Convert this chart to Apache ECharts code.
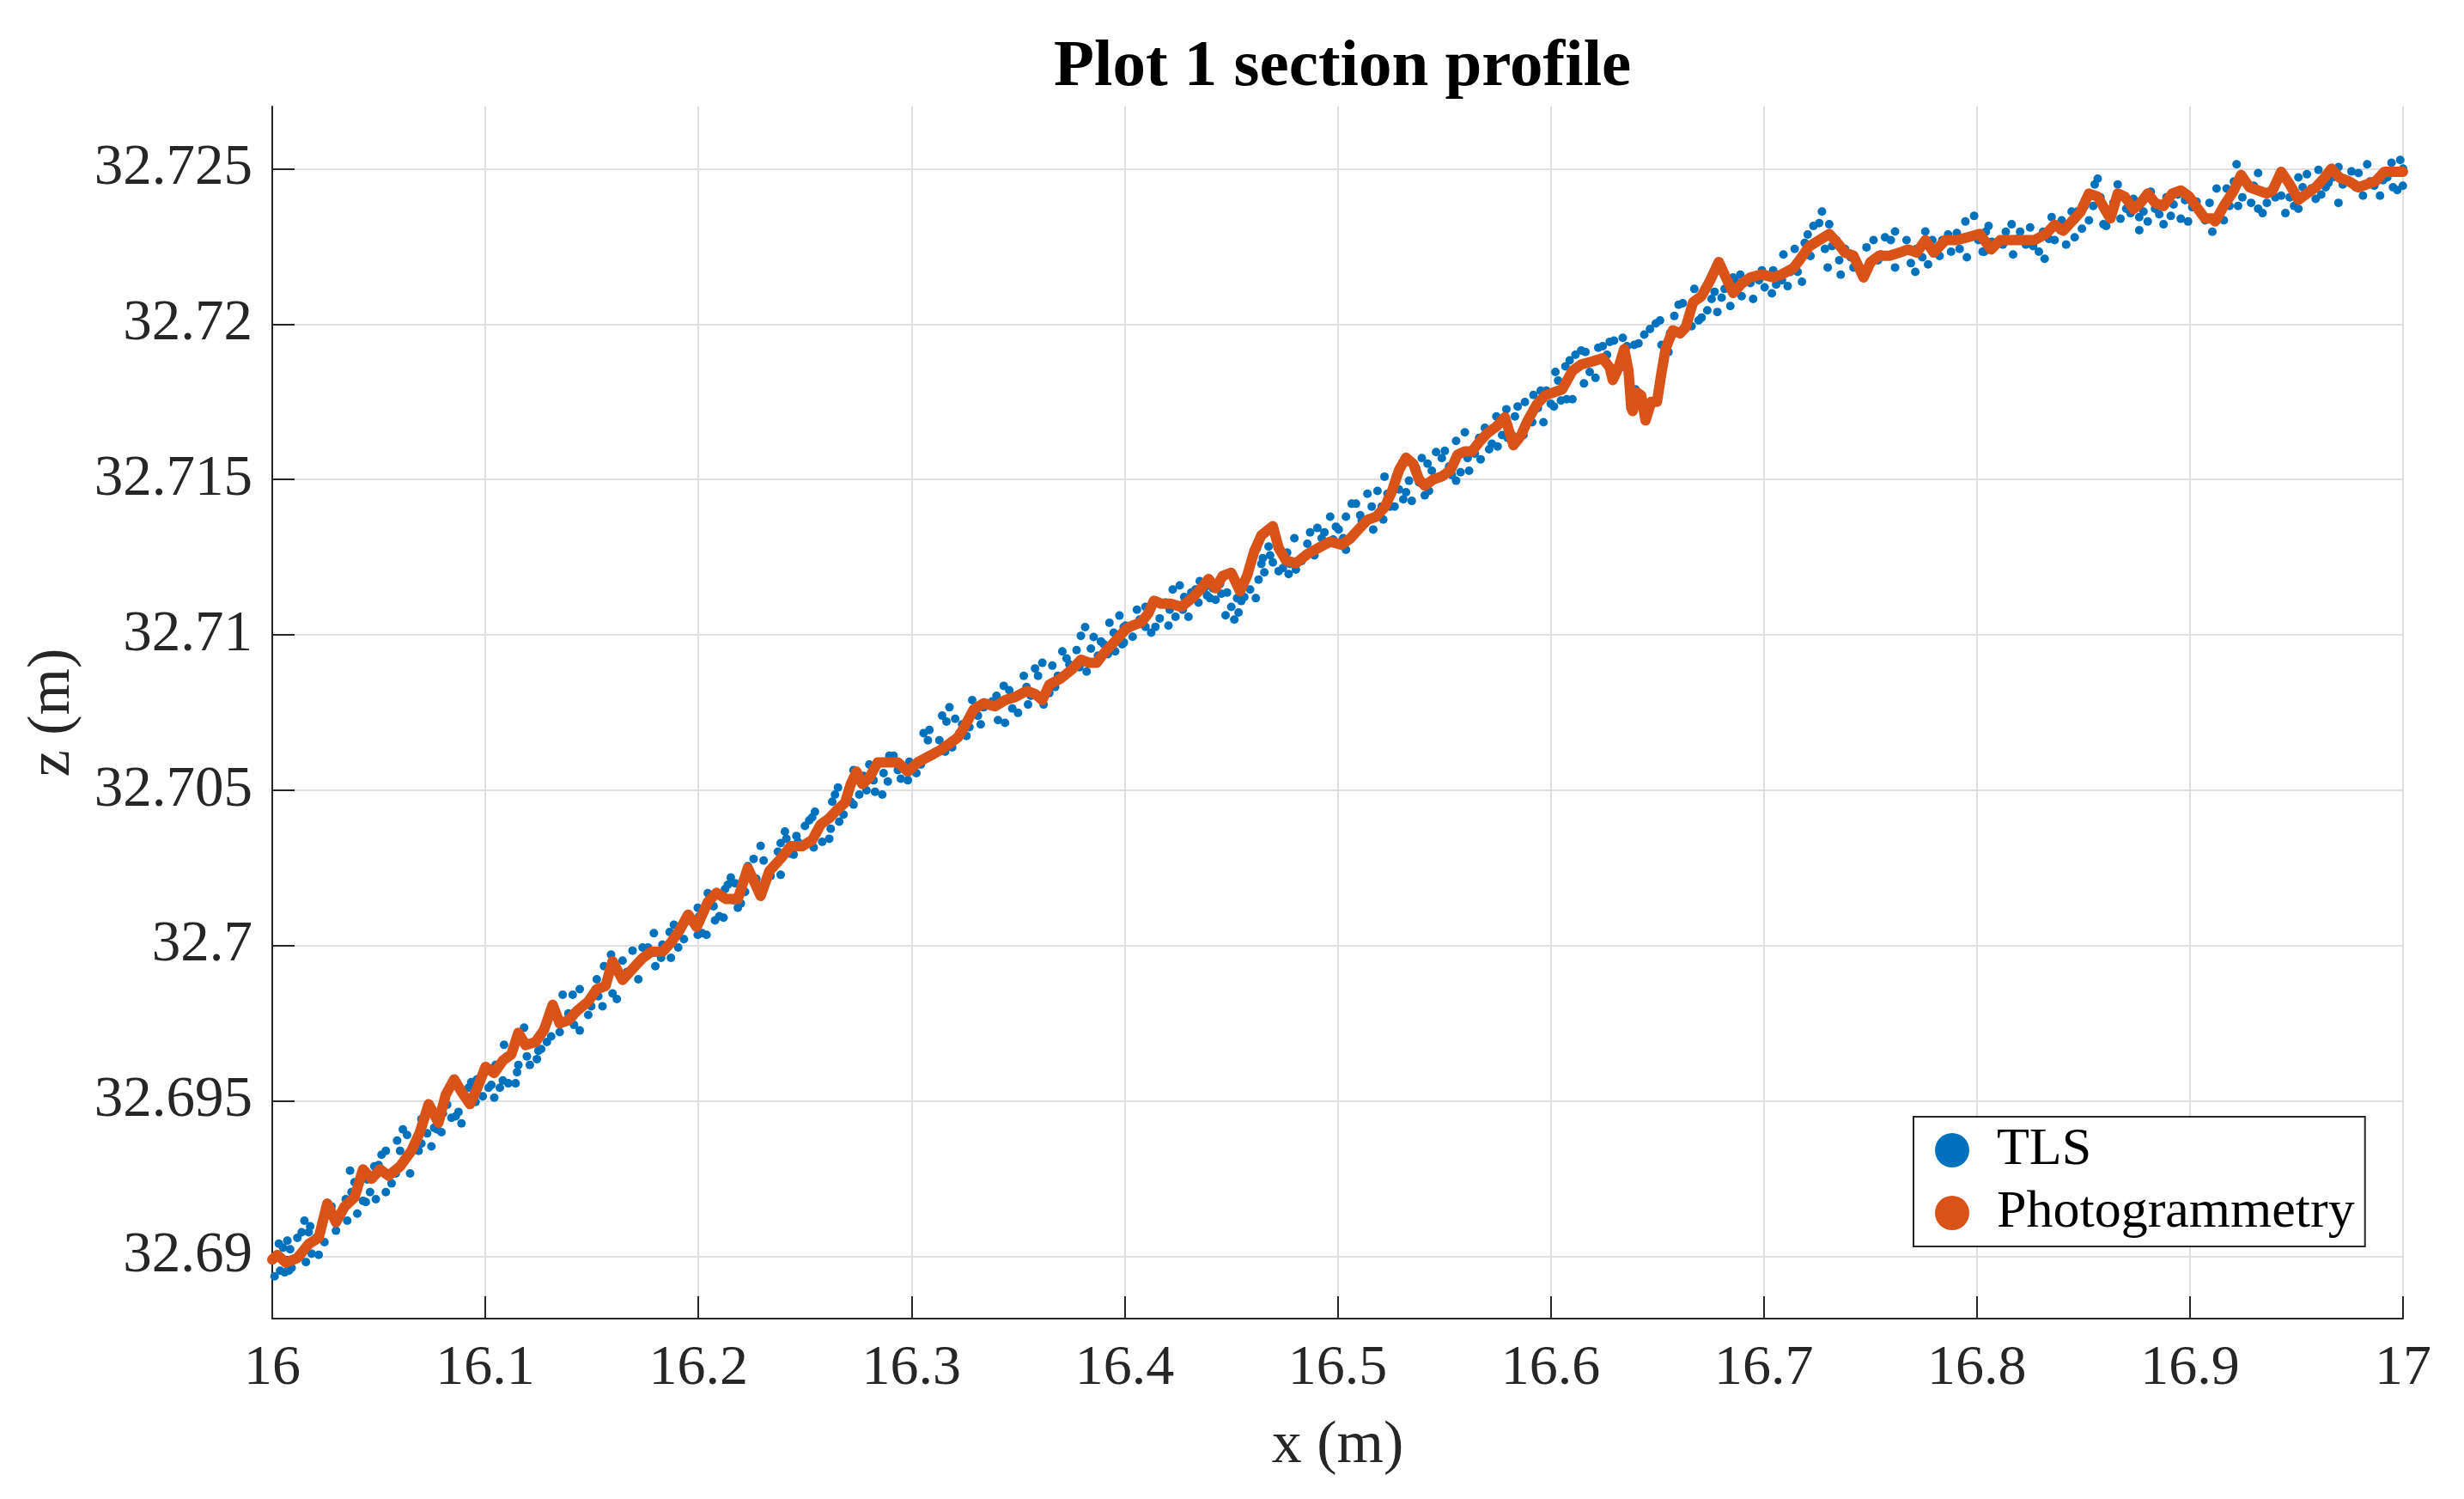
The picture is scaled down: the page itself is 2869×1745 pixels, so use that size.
<!DOCTYPE html>
<html>
<head>
<meta charset="utf-8">
<script src="https://cdn.jsdelivr.net/npm/echarts@6/dist/echarts.min.js"></script>
<style>html,body{margin:0;padding:0;background:#fff;}#chart{width:2869px;height:1745px;}</style>
</head>
<body>
<div id="chart"></div>
<script>
const xTicks = [16, 16.1, 16.2, 16.3, 16.4, 16.5, 16.6, 16.7, 16.8, 16.9, 17];
const yTicks = [32.69, 32.695, 32.7, 32.705, 32.71, 32.715, 32.72, 32.725];

// TLS points [x, z]
const tlsA = [[16.0011,32.68936],[16.0037,32.68954],[16.0058,32.68949],[16.0078,32.68954],[16.0091,32.68963],[16.0031,32.69041],[16.0071,32.69051],[16.0051,32.69028],[16.0084,32.69023],[16.0118,32.69060],[16.0138,32.69078],[16.0151,32.69115],[16.0178,32.69097],[16.0171,32.69078],[16.0131,32.69000],[16.0158,32.68982],[16.0185,32.69009],[16.0218,32.69005],[16.0205,32.69060],[16.0245,32.69046],[16.0252,32.69147],[16.0278,32.69161],[16.0292,32.69124],[16.0299,32.69083],[16.0345,32.69184],[16.0352,32.69115],[16.0372,32.69207],[16.0365,32.69276],[16.0386,32.69239],[16.0399,32.69138],[16.0426,32.69179],[16.0439,32.69175],[16.0446,32.69248],[16.0459,32.69207],[16.0479,32.69290],[16.0486,32.69184],[16.0499,32.69294],[16.0513,32.69327],[16.0533,32.69340],[16.0533,32.69207],[16.0560,32.69235],[16.0580,32.69267],[16.0586,32.69373],[16.0600,32.69340],[16.0613,32.69409],[16.0633,32.69391],[16.0647,32.69267],[16.0687,32.69340],[16.0700,32.69363],[16.0700,32.69442],[16.0727,32.69396],[16.0747,32.69354],[16.0760,32.69414],[16.0774,32.69409],[16.0794,32.69400],[16.0801,32.69460],[16.0821,32.69488],[16.0841,32.69446],[16.0861,32.69451],[16.0888,32.69428],[16.0874,32.69465],[16.0921,32.69543],[16.0934,32.69561],[16.0961,32.69570],[16.0954,32.69497],[16.0988,32.69515],[16.1015,32.69543],[16.1028,32.69552],[16.1042,32.69511],[16.1048,32.69616],[16.1068,32.69543],[16.1082,32.69566],[16.1088,32.69681],[16.1102,32.69644],[16.1108,32.69557],[16.1142,32.69557],[16.1149,32.69593],[16.1155,32.69616],[16.1182,32.69736],[16.1195,32.69644],[16.1209,32.69616],[16.1242,32.69635],[16.1249,32.69662],[16.1262,32.69667],[16.1276,32.69736],[16.1289,32.69690],[16.1309,32.69708],[16.1349,32.69722],[16.1363,32.69842],[16.1390,32.69782],[16.1410,32.69842],[16.1416,32.69745],[16.1443,32.69727],[16.1443,32.69860],[16.1483,32.69777],[16.1497,32.69805],[16.1523,32.69892],[16.1530,32.69837],[16.1550,32.69805],[16.1557,32.69934],[16.1590,32.69971],[16.1597,32.69846],[16.1617,32.69828],[16.1644,32.69952],[16.1664,32.69915],[16.1691,32.69984],[16.1718,32.69892],[16.1738,32.69994],[16.1764,32.69994],[16.1791,32.70040],[16.1798,32.69934],[16.1825,32.69961],[16.1831,32.70003],[16.1865,32.70044],[16.1871,32.69961],[16.1885,32.70067],[16.1905,32.69994],[16.1932,32.70021],[16.1952,32.70081]];
const tlsB = [[16.1997,32.70035],[16.2017,32.70040],[16.2038,32.70035],[16.2004,32.70095],[16.1997,32.70122],[16.2024,32.70118],[16.2044,32.70169],[16.2071,32.70127],[16.2078,32.70081],[16.2098,32.70095],[16.2118,32.70090],[16.2125,32.70182],[16.2138,32.70196],[16.2152,32.70219],[16.2172,32.70201],[16.2185,32.70122],[16.2165,32.70146],[16.2199,32.70136],[16.2219,32.70173],[16.2232,32.70256],[16.2259,32.70279],[16.2272,32.70215],[16.2292,32.70321],[16.2306,32.70274],[16.2339,32.70224],[16.2346,32.70251],[16.2386,32.70228],[16.2373,32.70302],[16.2386,32.70330],[16.2406,32.70367],[16.2413,32.70344],[16.2427,32.70297],[16.2447,32.70293],[16.2460,32.70353],[16.2467,32.70334],[16.2500,32.70385],[16.2520,32.70403],[16.2534,32.70413],[16.2547,32.70431],[16.2541,32.70316],[16.2561,32.70376],[16.2581,32.70334],[16.2614,32.70344],[16.2621,32.70376],[16.2628,32.70463],[16.2641,32.70486],[16.2655,32.70509],[16.2661,32.70399],[16.2681,32.70422],[16.2715,32.70463],[16.2728,32.70454],[16.2728,32.70565],[16.2749,32.70537],[16.2755,32.70486],[16.2775,32.70546],[16.2789,32.70500],[16.2802,32.70583],[16.2822,32.70532],[16.2829,32.70495],[16.2863,32.70486],[16.2869,32.70555],[16.2876,32.70588],[16.2889,32.70528],[16.2896,32.70611],[16.2916,32.70611],[16.2936,32.70565],[16.2950,32.70537],[16.2983,32.70532],[16.2990,32.70592],[16.3023,32.70555],[16.3044,32.70583],[16.3057,32.70684],[16.3077,32.70661],[16.3084,32.70694],[16.3097,32.70611],[16.3131,32.70661],[16.3144,32.70740],[16.3158,32.70624],[16.3164,32.70721],[16.3178,32.70767],[16.3191,32.70638],[16.3205,32.70730],[16.3225,32.70684],[16.3238,32.70712],[16.3258,32.70675],[16.3272,32.70703],[16.3285,32.70790],[16.3312,32.70740],[16.3325,32.70712],[16.3339,32.70767],[16.3379,32.70786],[16.3399,32.70804],[16.3406,32.70726],[16.3433,32.70836],[16.3439,32.70717],[16.3459,32.70822],[16.3473,32.70763],[16.3500,32.70749],[16.3520,32.70813],[16.3527,32.70868],[16.3540,32.70832],[16.3547,32.70776],[16.3560,32.70804],[16.3580,32.70892],[16.3594,32.70868],[16.3614,32.70910],[16.3620,32.70776],[16.3647,32.70813],[16.3661,32.70901],[16.3674,32.70832],[16.3687,32.70868],[16.3708,32.70947],[16.3728,32.70924],[16.3741,32.70905],[16.3775,32.70951],[16.3788,32.70896],[16.3795,32.70997],[16.3815,32.71025],[16.3822,32.70882],[16.3842,32.70956],[16.3855,32.70993],[16.3875,32.70933],[16.3889,32.70979],[16.3902,32.70970],[16.3922,32.70938],[16.3929,32.71039],[16.3949,32.71007],[16.3956,32.70947],[16.3976,32.71062],[16.3989,32.70970],[16.3996,32.71025]];
const tlsC = [[16.3997,32.70975],[16.4004,32.71030],[16.4038,32.70994],[16.4058,32.71081],[16.4071,32.71049],[16.4098,32.71090],[16.4098,32.71026],[16.4125,32.71007],[16.4145,32.71026],[16.4165,32.71053],[16.4172,32.71099],[16.4192,32.71104],[16.4206,32.71030],[16.4212,32.71081],[16.4226,32.71146],[16.4239,32.71058],[16.4259,32.71159],[16.4273,32.71081],[16.4280,32.71122],[16.4300,32.71058],[16.4313,32.71136],[16.4333,32.71146],[16.4347,32.71104],[16.4353,32.71173],[16.4374,32.71150],[16.4387,32.71127],[16.4401,32.71118],[16.4414,32.71150],[16.4427,32.71113],[16.4448,32.71164],[16.4454,32.71132],[16.4474,32.71063],[16.4481,32.71136],[16.4501,32.71090],[16.4515,32.71049],[16.4528,32.71118],[16.4535,32.71072],[16.4548,32.71109],[16.4562,32.71122],[16.4589,32.71146],[16.4616,32.71118],[16.4622,32.71279],[16.4629,32.71178],[16.4642,32.71228],[16.4649,32.71247],[16.4656,32.71201],[16.4676,32.71284],[16.4683,32.71256],[16.4696,32.71233],[16.4723,32.71205],[16.4730,32.71274],[16.4743,32.71215],[16.4763,32.71265],[16.4770,32.71196],[16.4777,32.71228],[16.4797,32.71311],[16.4804,32.71210],[16.4831,32.71238],[16.4858,32.71293],[16.4871,32.71330],[16.4891,32.71256],[16.4905,32.71344],[16.4925,32.71311],[16.4938,32.71330],[16.4952,32.71293],[16.4965,32.71380],[16.4979,32.71307],[16.4992,32.71348],[16.5005,32.71339],[16.5026,32.71311],[16.5039,32.71274],[16.5039,32.71380],[16.5066,32.71422],[16.5086,32.71422],[16.5106,32.71385],[16.5113,32.71367],[16.5140,32.71454],[16.5160,32.71413],[16.5167,32.71339],[16.5187,32.71463],[16.5207,32.71413],[16.5214,32.71371],[16.5220,32.71509],[16.5234,32.71454],[16.5247,32.71413],[16.5267,32.71413],[16.5274,32.71509],[16.5288,32.71468],[16.5308,32.71436],[16.5321,32.71459],[16.5335,32.71496],[16.5348,32.71431],[16.5368,32.71537],[16.5382,32.71491],[16.5395,32.71569],[16.5409,32.71449],[16.5422,32.71551],[16.5429,32.71463],[16.5442,32.71528],[16.5462,32.71588],[16.5476,32.71505],[16.5489,32.71569],[16.5503,32.71592],[16.5523,32.71542],[16.5536,32.71514],[16.5556,32.71624],[16.5556,32.71496],[16.5577,32.71523],[16.5597,32.71652],[16.5610,32.71569],[16.5617,32.71528],[16.5644,32.71583],[16.5664,32.71634],[16.5671,32.71565],[16.5691,32.71666],[16.5711,32.71597],[16.5724,32.71615],[16.5745,32.71703],[16.5751,32.71606],[16.5772,32.71643],[16.5792,32.71726],[16.5798,32.71634],[16.5819,32.71643],[16.5832,32.71703],[16.5845,32.71735],[16.5872,32.71643],[16.5879,32.71749],[16.5892,32.71684],[16.5913,32.71684],[16.5919,32.71772],[16.5940,32.71730],[16.5953,32.71786],[16.5966,32.71684],[16.5980,32.71786],[16.6000,32.71744]];
const tlsD = [[16.6022,32.71846],[16.6035,32.71818],[16.6015,32.71735],[16.6048,32.71754],[16.6075,32.71758],[16.6102,32.71758],[16.6069,32.71864],[16.6089,32.71883],[16.6116,32.71901],[16.6143,32.71915],[16.6163,32.71910],[16.6156,32.71809],[16.6183,32.71846],[16.6203,32.71883],[16.6223,32.71924],[16.6210,32.71827],[16.6244,32.71929],[16.6264,32.71901],[16.6277,32.71943],[16.6297,32.71947],[16.6297,32.71837],[16.6318,32.71860],[16.6338,32.71956],[16.6351,32.71860],[16.6358,32.71929],[16.6392,32.71933],[16.6398,32.71790],[16.6412,32.71758],[16.6412,32.71938],[16.6439,32.71966],[16.6466,32.71984],[16.6493,32.72002],[16.6513,32.72012],[16.6520,32.71933],[16.6553,32.71910],[16.6560,32.71970],[16.6580,32.72026],[16.6600,32.72062],[16.6620,32.72067],[16.6641,32.72012],[16.6661,32.71993],[16.6674,32.72113],[16.6694,32.72012],[16.6708,32.72021],[16.6735,32.72044],[16.6755,32.72081],[16.6769,32.72104],[16.6782,32.72039],[16.6802,32.72085],[16.6816,32.72113],[16.6843,32.72058],[16.6856,32.72150],[16.6869,32.72136],[16.6890,32.72159],[16.6896,32.72090],[16.6937,32.72132],[16.6950,32.72081],[16.6977,32.72141],[16.6991,32.72173],[16.7004,32.72118],[16.7038,32.72099],[16.7044,32.72173],[16.7058,32.72127],[16.7085,32.72141],[16.7092,32.72224],[16.7112,32.72122],[16.7125,32.72168],[16.7145,32.72242],[16.7159,32.72168],[16.7179,32.72136],[16.7192,32.72261],[16.7206,32.72288],[16.7219,32.72219],[16.7233,32.72316],[16.7260,32.72325],[16.7273,32.72362],[16.7287,32.72242],[16.7300,32.72182],[16.7307,32.72321],[16.7320,32.72251],[16.7341,32.72270],[16.7354,32.72205],[16.7361,32.72159],[16.7381,32.72242],[16.7408,32.72215],[16.7421,32.72182],[16.7455,32.72178],[16.7482,32.72247],[16.7495,32.72196],[16.7515,32.72270],[16.7536,32.72205],[16.7549,32.72224],[16.7569,32.72279],[16.7596,32.72270],[16.7616,32.72182],[16.7616,32.72298],[16.7643,32.72233],[16.7670,32.72270],[16.7690,32.72196],[16.7711,32.72168],[16.7717,32.72242],[16.7744,32.72215],[16.7758,32.72298],[16.7771,32.72192],[16.7791,32.72270],[16.7825,32.72219],[16.7838,32.72270],[16.7865,32.72288],[16.7879,32.72233],[16.7906,32.72293],[16.7919,32.72242],[16.7946,32.72330],[16.7953,32.72215],[16.7987,32.72348],[16.8007,32.72270],[16.8027,32.72233]];
const tlsE = [[16.8042,32.72297],[16.8055,32.72316],[16.8035,32.72233],[16.8069,32.72265],[16.8089,32.72261],[16.8122,32.72256],[16.8136,32.72297],[16.8163,32.72321],[16.8170,32.72224],[16.8190,32.72274],[16.8203,32.72297],[16.8230,32.72256],[16.8250,32.72311],[16.8264,32.72251],[16.8291,32.72233],[16.8297,32.72279],[16.8318,32.72210],[16.8311,32.72297],[16.8338,32.72274],[16.8351,32.72344],[16.8365,32.72270],[16.8392,32.72302],[16.8398,32.72334],[16.8419,32.72256],[16.8432,32.72321],[16.8445,32.72362],[16.8459,32.72279],[16.8472,32.72362],[16.8493,32.72307],[16.8506,32.72380],[16.8526,32.72334],[16.8546,32.72380],[16.8553,32.72449],[16.8567,32.72468],[16.8580,32.72408],[16.8594,32.72321],[16.8607,32.72316],[16.8620,32.72362],[16.8641,32.72390],[16.8661,32.72449],[16.8674,32.72339],[16.8688,32.72408],[16.8701,32.72371],[16.8721,32.72357],[16.8735,32.72403],[16.8762,32.72302],[16.8762,32.72344],[16.8782,32.72362],[16.8802,32.72330],[16.8816,32.72426],[16.8836,32.72371],[16.8856,32.72353],[16.8876,32.72321],[16.8890,32.72408],[16.8910,32.72348],[16.8923,32.72385],[16.8943,32.72417],[16.8957,32.72339],[16.8977,32.72399],[16.8991,32.72330],[16.9011,32.72376],[16.9031,32.72394],[16.9051,32.72353],[16.9071,32.72334],[16.9092,32.72390],[16.9105,32.72297],[16.9125,32.72436],[16.9139,32.72357],[16.9159,32.72334],[16.9172,32.72436],[16.9186,32.72380],[16.9206,32.72459],[16.9219,32.72514],[16.9226,32.72380],[16.9246,32.72408],[16.9266,32.72454],[16.9287,32.72390],[16.9300,32.72445],[16.9320,32.72486],[16.9320,32.72371],[16.9341,32.72357],[16.9361,32.72390],[16.9381,32.72422],[16.9401,32.72408],[16.9428,32.72413],[16.9448,32.72357],[16.9468,32.72408],[16.9489,32.72380],[16.9509,32.72371],[16.9509,32.72472],[16.9529,32.72440],[16.9549,32.72482],[16.9569,32.72436],[16.9590,32.72403],[16.9603,32.72496],[16.9616,32.72417],[16.9637,32.72440],[16.9650,32.72454],[16.9670,32.72472],[16.9697,32.72390],[16.9697,32.72505],[16.9717,32.72449],[16.9738,32.72463],[16.9758,32.72491],[16.9778,32.72440],[16.9791,32.72486],[16.9812,32.72413],[16.9832,32.72514],[16.9845,32.72459],[16.9865,32.72445],[16.9892,32.72413],[16.9906,32.72463],[16.9926,32.72472],[16.9946,32.72519],[16.9953,32.72440],[16.9973,32.72431],[16.9987,32.72528],[17.0000,32.72500],[16.9999,32.72445]];

// Photogrammetry profile [x, z]
const photoA = [[16.0000,32.6899],[16.0024,32.69005],[16.0064,32.6898],[16.0118,32.68995],[16.0171,32.6904],[16.0218,32.6906],[16.0258,32.6917],[16.0299,32.6911],[16.0339,32.6916],[16.0386,32.6919],[16.0426,32.6928],[16.0466,32.6925],[16.0506,32.6928],[16.0546,32.6926],[16.0600,32.6929],[16.0653,32.6934],[16.0693,32.6940],[16.0734,32.6949],[16.0780,32.6943],[16.0814,32.6952],[16.0854,32.6957],[16.0888,32.6953],[16.0928,32.6949],[16.0961,32.6954],[16.1001,32.6961],[16.1041,32.6959],[16.1082,32.6963],[16.1122,32.6965],[16.1155,32.6972],[16.1189,32.6968],[16.1236,32.6969],[16.1276,32.6973],[16.1316,32.6981],[16.1349,32.6975],[16.1390,32.6976],[16.1430,32.6979],[16.1483,32.6982],[16.1523,32.6986],[16.1564,32.6987],[16.1597,32.6995],[16.1644,32.6989],[16.1697,32.6993],[16.1738,32.6996],[16.1778,32.6998],[16.1831,32.6998],[16.1871,32.7001],[16.1912,32.7005],[16.1952,32.7010],[16.1992,32.7006]];
const photoB = [[16.2044,32.7014],[16.2085,32.7017],[16.2131,32.7015],[16.2185,32.7015],[16.2232,32.7025],[16.2259,32.7021],[16.2292,32.7016],[16.2333,32.7024],[16.2386,32.7028],[16.2433,32.7032],[16.2487,32.7032],[16.2534,32.7034],[16.2574,32.7039],[16.2614,32.7041],[16.2655,32.7044],[16.2688,32.7046],[16.2715,32.7052],[16.2742,32.7056],[16.2769,32.7052],[16.2802,32.7054],[16.2842,32.7059],[16.2889,32.7059],[16.2936,32.7059],[16.2983,32.7056],[16.3030,32.7059],[16.3084,32.7061],[16.3137,32.7063],[16.3178,32.7065],[16.3218,32.7067],[16.3245,32.7070],[16.3292,32.7076],[16.3339,32.7078],[16.3392,32.7077],[16.3439,32.7079],[16.3486,32.7080],[16.3540,32.7082],[16.3580,32.7081],[16.3614,32.7079],[16.3647,32.7084],[16.3701,32.7086],[16.3755,32.7089],[16.3795,32.7092],[16.3835,32.7091],[16.3869,32.7091],[16.3902,32.7094],[16.3956,32.7098],[16.4009,32.7102]];
const photoC = [[16.4038,32.7103],[16.4078,32.7104],[16.4112,32.7107],[16.4138,32.7111],[16.4172,32.7110],[16.4219,32.7110],[16.4266,32.7109],[16.4320,32.7112],[16.4360,32.7115],[16.4394,32.7118],[16.4427,32.7115],[16.4461,32.7119],[16.4501,32.7120],[16.4542,32.7114],[16.4575,32.7119],[16.4609,32.7127],[16.4642,32.7132],[16.4696,32.7135],[16.4723,32.7128],[16.4757,32.7124],[16.4804,32.7123],[16.4858,32.7126],[16.4911,32.7128],[16.4965,32.7130],[16.5019,32.7129],[16.5059,32.7131],[16.5099,32.7134],[16.5140,32.7137],[16.5180,32.7138],[16.5220,32.7141],[16.5254,32.7146],[16.5288,32.7153],[16.5321,32.7157],[16.5355,32.7155],[16.5382,32.7150],[16.5409,32.7148],[16.5449,32.7150],[16.5489,32.7151],[16.5530,32.7153],[16.5563,32.7158],[16.5597,32.7159],[16.5630,32.7159],[16.5664,32.7162],[16.5704,32.7165],[16.5745,32.7167],[16.5785,32.7170],[16.5825,32.7161],[16.5859,32.7164],[16.5892,32.7169],[16.5933,32.7174],[16.5973,32.7177],[16.6013,32.7178],[16.6054,32.7179]];
const photoD = [[16.6102,32.7185],[16.6143,32.7187],[16.6196,32.7188],[16.6244,32.7189],[16.6277,32.7186],[16.6291,32.7182],[16.6318,32.7186],[16.6345,32.7192],[16.6365,32.7185],[16.6378,32.7173],[16.6385,32.7172],[16.6405,32.7178],[16.6425,32.7177],[16.6445,32.7169],[16.6472,32.7175],[16.6499,32.7175],[16.6519,32.7184],[16.6539,32.7192],[16.6573,32.7198],[16.6607,32.7197],[16.6634,32.7199],[16.6668,32.7207],[16.6708,32.7209],[16.6748,32.7214],[16.6789,32.7220],[16.6822,32.7215],[16.6856,32.7210],[16.6896,32.7213],[16.6937,32.7215],[16.6991,32.7216],[16.7044,32.7215],[16.7085,32.7216],[16.7139,32.7218],[16.7172,32.7221],[16.7213,32.7225],[16.7260,32.7227],[16.7307,32.7229],[16.7347,32.7226],[16.7381,32.7223],[16.7421,32.7222],[16.7468,32.7215],[16.7502,32.7220],[16.7542,32.7222],[16.7590,32.7222],[16.7637,32.7223],[16.7677,32.7224],[16.7718,32.7223],[16.7758,32.7227],[16.7798,32.7223],[16.7852,32.7227],[16.7906,32.7227],[16.7960,32.7228],[16.8013,32.7229],[16.8067,32.7224]];
const photoE = [[16.8109,32.7227],[16.8163,32.7227],[16.8217,32.7227],[16.8271,32.7227],[16.8324,32.7229],[16.8365,32.7232],[16.8405,32.7230],[16.8445,32.7233],[16.8486,32.7236],[16.8526,32.7242],[16.8567,32.7241],[16.8600,32.7237],[16.8627,32.7234],[16.8661,32.7242],[16.8694,32.7241],[16.8735,32.7237],[16.8768,32.7239],[16.8802,32.7242],[16.8836,32.7239],[16.8876,32.7238],[16.8917,32.7242],[16.8957,32.7243],[16.8997,32.7241],[16.9038,32.7237],[16.9071,32.7234],[16.9105,32.7234],[16.9118,32.7233],[16.9159,32.7238],[16.9206,32.7243],[16.9240,32.7248],[16.9280,32.7244],[16.9320,32.7243],[16.9361,32.7242],[16.9388,32.7243],[16.9428,32.7249],[16.9468,32.7245],[16.9509,32.7240],[16.9549,32.7242],[16.9590,32.7244],[16.9630,32.7247],[16.9664,32.7250],[16.9704,32.7247],[16.9745,32.7246],[16.9791,32.7244],[16.9832,32.7245],[16.9872,32.7246],[16.9913,32.7249],[16.9953,32.7249],[17.0000,32.7249]];

const tlsData = tlsA.concat(tlsB, tlsC, tlsD, tlsE);
const photoData = photoA.concat(photoB, photoC, photoD, photoE);

const FONT = "'Times New Roman', 'Liberation Serif', serif";
const AX = '#262626';

const chart = echarts.init(document.getElementById('chart'), null, {renderer: 'canvas'});
chart.setOption({
  animation: false,
  backgroundColor: '#ffffff',
  title: {
    text: 'Plot 1 section profile',
    left: 1222, top: 36,
    textStyle: {fontFamily: FONT, fontSize: 77, fontWeight: 'bold', color: '#000'}
  },
  grid: {left: 317, right: 71, top: 124, bottom: 210, containLabel: false},
  legend: {
    orient: 'vertical', left: 2228, top: 1300,
    itemWidth: 40, itemHeight: 40, itemGap: 11,
    padding: [8, 12, 8, 25],
    borderColor: AX, borderWidth: 2, backgroundColor: '#fff',
    textStyle: {fontFamily: FONT, fontSize: 62, color: '#000', lineHeight: 62, padding: [0, 0, 0, 27]},
    data: [{name: 'TLS', icon: 'circle'}, {name: 'Photogrammetry', icon: 'circle'}],
    z: 10
  },
  xAxis: {
    type: 'value', min: 16, max: 17, interval: 0.1,
    name: 'x (m)', nameLocation: 'middle', nameGap: 114,
    nameTextStyle: {fontFamily: FONT, fontSize: 70, color: AX},
    axisLine: {show: true, onZero: false, lineStyle: {color: AX, width: 2}},
    axisTick: {show: true, inside: true, length: 26, lineStyle: {color: AX, width: 2}},
    axisLabel: {fontFamily: FONT, fontSize: 66, color: AX, margin: 26,
      formatter: v => String(+v.toFixed(1))},
    splitLine: {show: true, lineStyle: {color: '#dfdfdf', width: 2}}
  },
  yAxis: {
    type: 'value', min: 32.688, max: 32.727,
    name: 'z (m)', nameLocation: 'middle', nameGap: 220,
    nameTextStyle: {fontFamily: FONT, fontSize: 70, color: AX},
    axisLine: {show: true, onZero: false, lineStyle: {color: AX, width: 2}},
    axisTick: {show: true, inside: true, length: 26, customValues: yTicks, lineStyle: {color: AX, width: 2}},
    axisLabel: {fontFamily: FONT, fontSize: 67, color: AX, margin: 23, customValues: yTicks,
      formatter: v => String(+(+v).toFixed(3))},
    splitLine: {show: true, lineStyle: {color: '#dfdfdf', width: 2}}
  },
  series: [
    {
      name: 'TLS', type: 'scatter', data: tlsData,
      symbol: 'circle', symbolSize: 10,
      itemStyle: {color: '#0072BD', opacity: 1},
      clip: false, z: 2
    },
    {
      name: 'Photogrammetry', type: 'line', data: photoData,
      showSymbol: false, symbol: 'circle',
      itemStyle: {color: '#D95319'},
      lineStyle: {color: '#D95319', width: 12, cap: 'round', join: 'round'},
      clip: false, z: 3
    }
  ]
});
</script>
</body>
</html>
